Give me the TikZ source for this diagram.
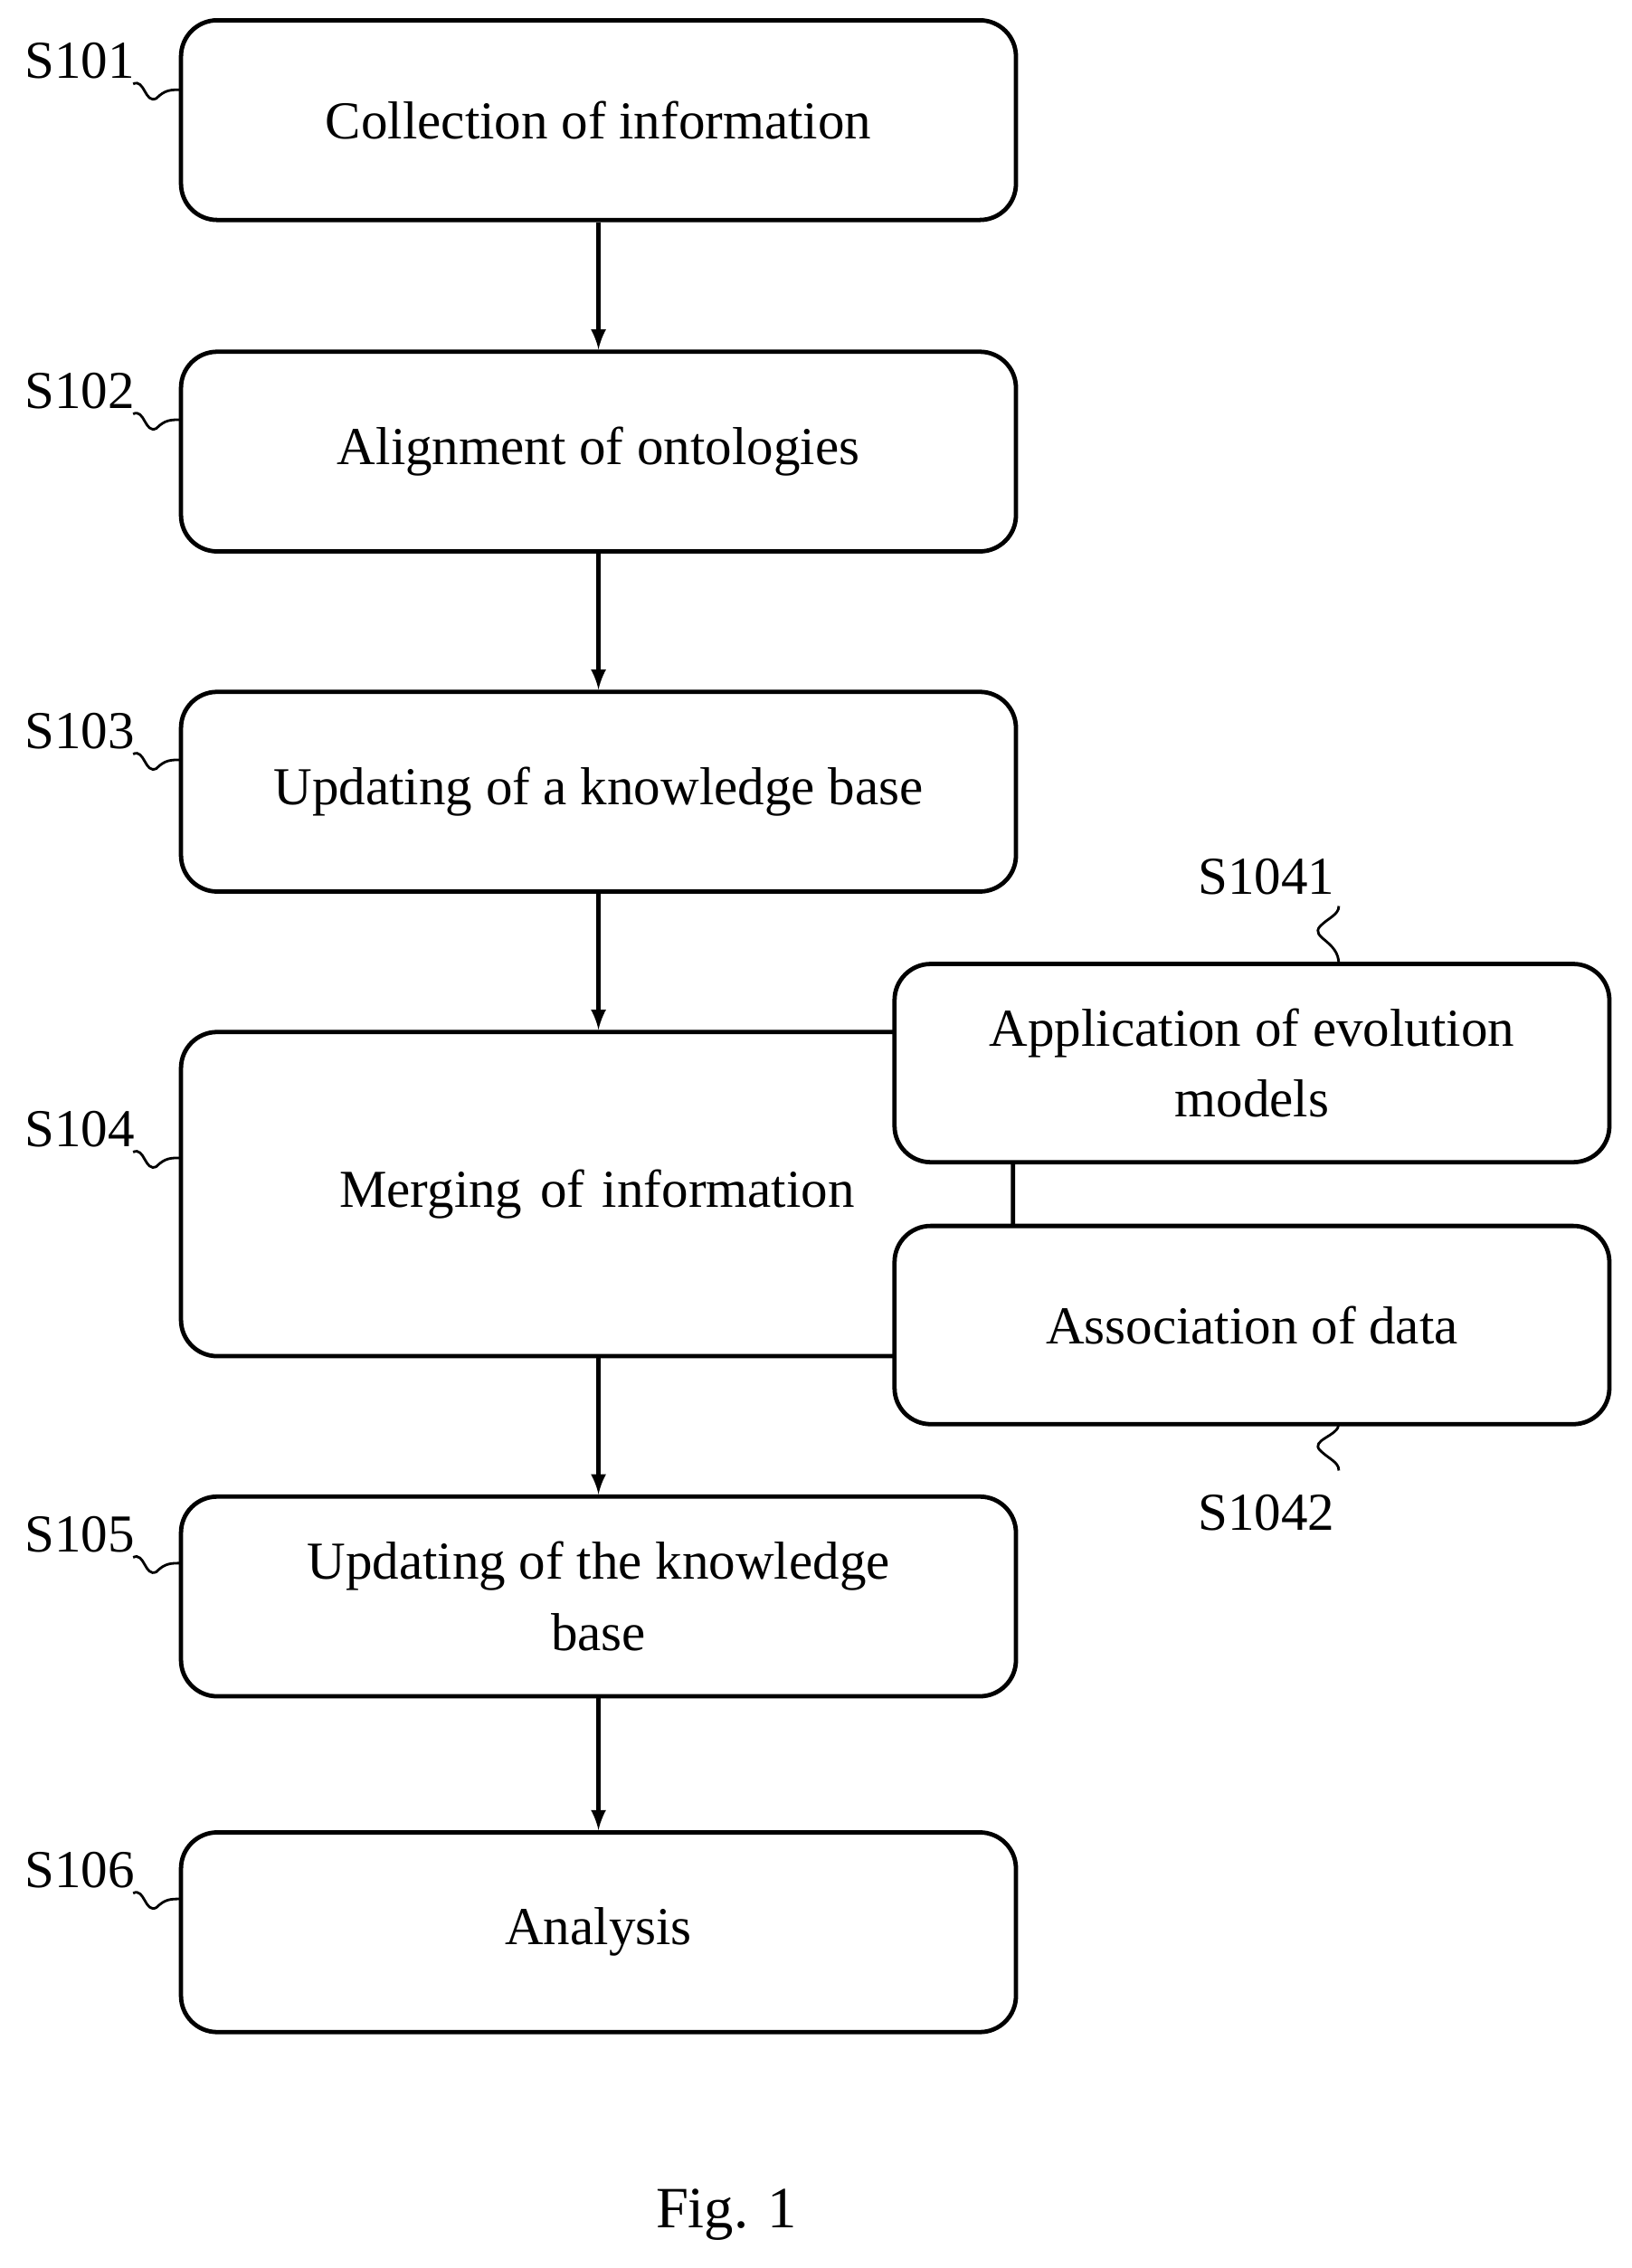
\documentclass[tikz,border=0pt]{standalone}
\usepackage{fontspec}
\setmainfont{Liberation Serif}
\usetikzlibrary{positioning}
\begin{document}
\begin{tikzpicture}[x=0.02cm,y=-0.02cm,
    stepbox/.style={draw, line width=1.7pt, rounded corners=0.5cm, fill=white,
      minimum width=11.54cm, minimum height=2.76cm, align=center,
      font=\fontsize{21}{28}\selectfont},
    subbox/.style={stepbox, minimum width=9.88cm, minimum height=2.74cm},
    lbl/.style={font=\fontsize{21}{24}\selectfont},
    flow/.style={-latex, line width=1.7pt},
    squig/.style={line width=1pt}]
  \useasboundingbox (0,0) rectangle (1127,1567);

  % Main steps
  \node[stepbox] (s101) at (413.5,83) {Collection of information};
  \node[stepbox] (s102) at (413.5,312) {Alignment of ontologies};
  \node[stepbox] (s103) at (413.5,547) {Updating of a knowledge base};
  \node[stepbox, minimum width=11.5cm, minimum height=4.48cm, text width=9cm] (s104) at (412.5,825) {Merging of information};
  \node[stepbox] (s105) at (413.5,1103) {Updating of the knowledge\\base};
  \node[stepbox] (s106) at (413.5,1335) {Analysis};

  % Sub steps of S104
  \node[subbox] (s1041) at (865,734.5) {Application of evolution\\models};
  \node[subbox] (s1042) at (865,915.5) {Association of data};

  % Arrows
  \draw[flow] (s101) -- (s102);
  \draw[flow] (s102) -- (s103);
  \draw[flow] (s103.south) -- (s104.north-|s103.south);
  \draw[flow] (s104.south-|s105.north) -- (s105);
  \draw[flow] (s105) -- (s106);

  % Reference labels
  \foreach \n/\t/\y in {s101/S101/42, s102/S102/270, s103/S103/505,
      s104/S104/780, s105/S105/1060, s106/S106/1292} {
    \node[lbl] (l\n) at (55,\y) {\t};
    \draw[squig] (92,\y+16) .. controls (100,\y+12) and (100,\y+30) .. (108,\y+26)
      .. controls (114,\y+20) and (118,\y+20) .. (125,\y+20);
  }
  \node[lbl] (ls1041) at (875,606) {S1041};
  \draw[squig] (925,666) .. controls (925,650) and (905,648) .. (912,640)
    .. controls (918,634) and (925,632) .. (925,626);
  \node[lbl] (ls1042) at (875,1045) {S1042};
  \draw[squig] (925,984) .. controls (925,992) and (905,995) .. (912,1002)
    .. controls (918,1008) and (925,1010) .. (925,1016);

  \node[lbl, font=\fontsize{23}{26}\selectfont] (fig) at (502,1530) {Fig. 1};
\end{tikzpicture}
\end{document}
